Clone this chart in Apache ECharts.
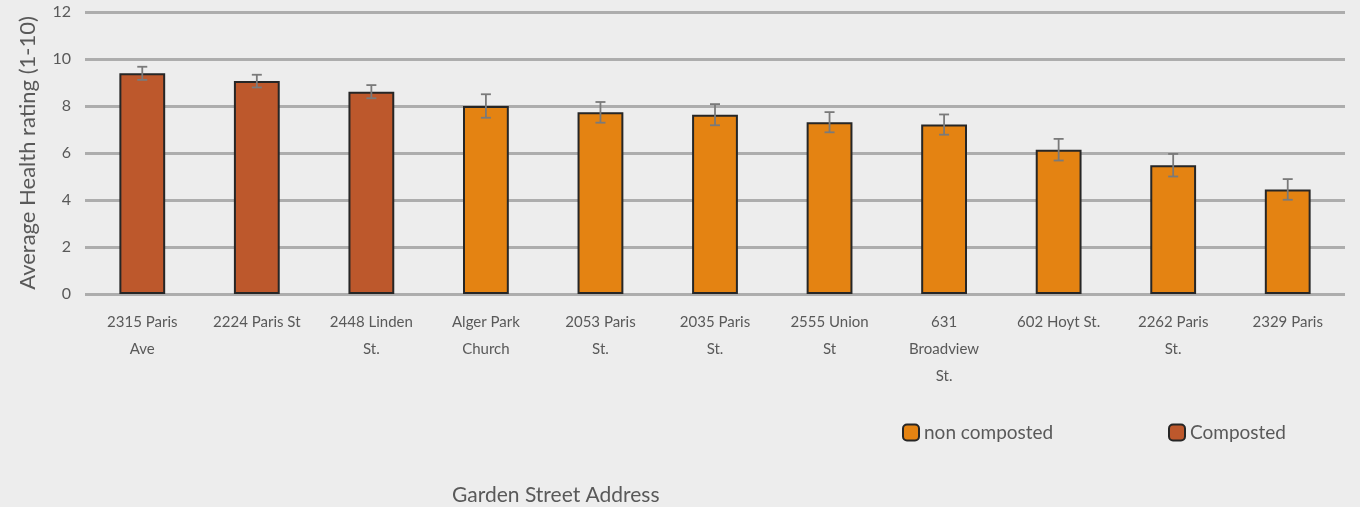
<!DOCTYPE html>
<html>
<head>
<meta charset="utf-8">
<script src="https://cdn.jsdelivr.net/npm/echarts@6/dist/echarts.min.js"></script>
<style>
  html, body { margin: 0; padding: 0; background: #ededed; }
  #chart { width: 1360px; height: 507px; }
</style>
</head>
<body>
<div id="chart"></div>
<script>
// garden addresses (line breaks as in the original tick labels)
const categories = [
  '2315 Paris\nAve', '2224 Paris St', '2448 Linden\nSt.', 'Alger Park\nChurch',
  '2053 Paris\nSt.', '2035 Paris\nSt.', '2555 Union\nSt', '631\nBroadview\nSt.',
  '602 Hoyt St.', '2262 Paris\nSt.', '2329 Paris'
]
const ratings = [9.39, 9.06, 8.61, 8.0, 7.73, 7.63, 7.31, 7.21, 6.14, 5.48, 4.45]
const errors = [0.28, 0.27, 0.28, 0.5, 0.44, 0.45, 0.43, 0.43, 0.46, 0.48, 0.44]
const composted = [true, true, true, false, false, false, false, false, false, false, false]

const yTicks = { min: 0, max: 12, interval: 2 }

const colComposted = '#bd582c'
const colNon = '#e48312'
const textColor = '#595959'
const font = 'Lato'

const chart = echarts.init(document.getElementById('chart'))

const compostedData = ratings.map((v, i) => composted[i] ? v : '-')
const nonData = ratings.map((v, i) => composted[i] ? '-' : v)
const errData = ratings.map((v, i) => [i, v - errors[i], v + errors[i]])

const barStyle = (c) => ({ color: c, borderColor: '#262626', borderWidth: 2 })

const legendText = { color: textColor, fontSize: 19, fontFamily: font }

chart.setOption({
  backgroundColor: '#ededed',
  animation: false,
  textStyle: { fontFamily: font, color: textColor },
  grid: { left: 85, right: 15, top: 12, bottom: 213 },
  legend: [
    {
      data: ['non composted'], left: 897, top: 418,
      itemWidth: 16, itemHeight: 16, itemGap: 4, textStyle: legendText
    },
    {
      data: ['Composted'], left: 1163, top: 418,
      itemWidth: 16, itemHeight: 16, itemGap: 4, textStyle: legendText
    }
  ],
  graphic: [{
    type: 'text', left: 452, top: 485,
    style: { text: 'Garden Street Address', fill: textColor, font: '21px ' + font }
  }],
  xAxis: {
    type: 'category',
    data: categories,
    axisLine: { show: false },
    axisTick: { show: false },
    axisLabel: {
      interval: 0, color: textColor, fontSize: 15, lineHeight: 27,
      margin: 15, fontFamily: font
    }
  },
  yAxis: {
    type: 'value',
    min: yTicks.min, max: yTicks.max, interval: yTicks.interval,
    name: 'Average Health rating (1-10)',
    nameLocation: 'middle', nameGap: 46,
    nameTextStyle: { color: textColor, fontSize: 22, fontFamily: font },
    axisLabel: { color: textColor, fontSize: 16, margin: 14, fontFamily: font },
    splitLine: { lineStyle: { color: '#adadad', width: 3 } }
  },
  series: [
    {
      name: 'non composted', type: 'bar', data: nonData,
      barWidth: '40%', barGap: '-100%', itemStyle: barStyle(colNon)
    },
    {
      name: 'Composted', type: 'bar', data: compostedData,
      barWidth: '40%', barGap: '-100%', itemStyle: barStyle(colComposted)
    },
    {
      type: 'custom', name: 'err', data: errData, z: 10,
      renderItem: (params, api) => {
        const x = api.value(0)
        const lo = api.coord([x, api.value(1)])
        const hi = api.coord([x, api.value(2)])
        const cap = 5
        const style = { stroke: '#7a7a7a', lineWidth: 1.8 }
        return {
          type: 'group',
          children: [
            { type: 'line', shape: { x1: hi[0], y1: hi[1], x2: lo[0], y2: lo[1] }, style },
            { type: 'line', shape: { x1: hi[0] - cap, y1: hi[1], x2: hi[0] + cap, y2: hi[1] }, style },
            { type: 'line', shape: { x1: lo[0] - cap, y1: lo[1], x2: lo[0] + cap, y2: lo[1] }, style }
          ]
        }
      }
    }
  ]
})
</script>
</body>
</html>
